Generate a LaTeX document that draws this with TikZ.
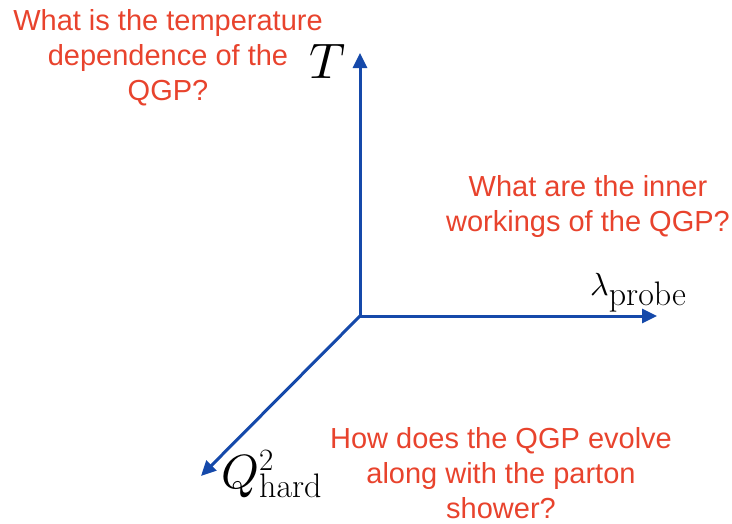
\documentclass[tikz,border=0pt]{standalone}
\usepackage{fontspec}
\usepackage{graphicx}
\usepackage{tikz}
\usetikzlibrary{arrows.meta,positioning}
\newfontfamily\qfont{Liberation Sans}
\definecolor{axblue}{HTML}{1549AA}
\definecolor{qred}{HTML}{E8432D}
\tikzset{
  axis/.style  = {draw=axblue, line width=3pt, -{Triangle[length=15pt,width=14pt]}},
  quest/.style = {text=qred, align=center, inner sep=0pt,
                  font=\qfont\fontsize{29}{35}\selectfont},
  alab/.style  = {inner sep=0pt, text=black, font=\fontsize{34}{34}\selectfont},
}
% math glyph at 10pt, scaled up
\newcommand{\bigsym}[2]{\scalebox{#1}{\normalsize$#2$}}

\begin{document}
\begin{tikzpicture}[x=1pt,y=-1pt]
  \useasboundingbox (0,0) rectangle (732,523);
  % axes
  \coordinate (o)  at (360,316);
  \coordinate (eT) at (360,53);
  \coordinate (eL) at (657,316);
  \coordinate (eQ) at (201,476);
  \draw[axis] (o) -- (eT);
  \draw[axis] (o) -- (eL);
  \draw[axis] (o) -- (eQ);
  % axis labels
  \node[alab, anchor=base west] (lT) at (309,78) {\bigsym{5}{T}};
  \node[alab, anchor=base west] (lL) at (590,295)
       {\bigsym{3.2}{\lambda}\raisebox{-10pt}{probe}};
  \node[alab, anchor=base west] (lQ) at (221,488)
       {\bigsym{4.8}{Q}\rlap{\raisebox{18pt}{\fontsize{31}{31}\selectfont 2}}\raisebox{-9pt}{hard}};
  % questions
  \node[quest, anchor=north] (qT) at (168,9)
       {What is the temperature\\dependence of the\\QGP?};
  \node[quest, anchor=north] (qL) at (588,175)
       {What are the inner\\workings of the QGP?};
  \node[quest, anchor=north] (qQ) at (501,427)
       {How does the QGP evolve\\along with the parton\\shower?};
\end{tikzpicture}
\end{document}
